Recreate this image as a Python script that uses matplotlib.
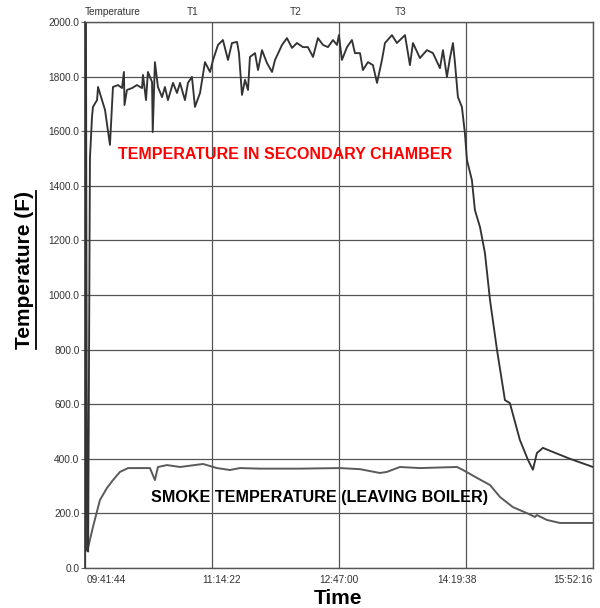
import matplotlib
matplotlib.use('Agg')
import matplotlib.pyplot as plt
from matplotlib.transforms import ScaledTranslation
from matplotlib.lines import Line2D

plt.rcParams['font.family'] = ['Liberation Sans', 'DejaVu Sans']

# elapsed minutes since 09:41:44
chamber_t = [0, 0.7, 1.5, 2.3, 3.6, 5.1, 5.8, 8.8, 9.5, 12.4, 14.6, 18.2, 20.4, 24.1, 27.0,
             28.4, 28.8, 30.6, 34.3, 37.9, 41.6, 42.3, 44.5, 45.9, 48.9, 49.4, 51.0, 53.2,
             56.2, 58.3, 60.5, 64.2, 67.1, 69.3, 72.9, 75.1, 78.0, 80.2, 83.9, 87.5, 91.2,
             93.4, 97.0, 100.6, 104.3, 107.2, 110.9, 112.3, 114.5, 116.7, 118.9, 120.3,
             124.0, 126.2, 129.1, 132.7, 136.4, 138.6, 143.7, 147.3, 151.0, 154.6, 159.0,
             162.6, 166.3, 169.9, 173.6, 177.2, 180.9, 183.8, 185.2, 187.4, 191.1, 194.7,
             196.9, 200.6, 202.7, 206.4, 210.0, 213.0, 216.6, 218.8, 223.9, 227.5, 233.4,
             237.0, 239.2, 244.3, 249.4, 253.8, 258.9, 261.1, 264.0, 266.2, 268.4, 269.8,
             272.0, 274.9, 277.1, 278.6, 282.2, 284.4, 288.1, 291.7, 295.4, 300.5, 306.3,
             309.9, 317.2, 323.1, 326.7, 329.6, 334.0, 341.3, 353.7, 370.5]
chamber_v = [65, 2000, 70, 60, 1500, 1652, 1689, 1714, 1762, 1714, 1678, 1550, 1762, 1769, 1758,
             1817, 1696, 1751, 1758, 1769, 1758, 1806, 1714, 1817, 1780, 1597, 1853, 1762,
             1725, 1762, 1714, 1777, 1740, 1777, 1714, 1777, 1799, 1689, 1740, 1853, 1817,
             1861, 1916, 1934, 1861, 1923, 1927, 1886, 1733, 1788, 1751, 1872,
             1886, 1824, 1897, 1850, 1817, 1861, 1916, 1941, 1905, 1923, 1908,
             1908, 1872, 1941, 1916, 1908, 1934, 1916, 1952, 1861, 1908, 1934,
             1886, 1886, 1824, 1853, 1842, 1777, 1861, 1923, 1952, 1923, 1952,
             1842, 1923, 1868, 1897, 1886, 1831, 1897, 1799, 1868, 1923, 1853,
             1725, 1689, 1593, 1494, 1421, 1311, 1249, 1154, 982, 799, 615,
             604, 469, 396, 360, 421, 440, 425, 400, 370]

smoke_t = [0, 2.2, 5.8, 10.9, 16.0, 20.4, 25.5, 31.4, 40.1, 47.4, 51.0, 53.2, 59.8, 69.3,
           86.1, 96.3, 105.7, 113.0, 127.6, 156.8, 186.0, 200.6, 215.1, 220.2, 229.7,
           244.3, 271.3, 275.7, 285.9, 295.4, 302.7, 312.1, 322.3, 328.2, 329.6, 336.9,
           346.4, 370.5]
smoke_v = [59, 73, 150, 249, 293, 322, 352, 366, 366, 366, 322, 370, 377, 370,
           381, 366, 359, 366, 364, 364, 366, 362, 348, 352, 370,
           366, 370, 359, 330, 304, 260, 223, 201, 187, 194, 176,
           165, 165]

time_ticks = [0, 92.63, 185.27, 277.9, 370.53]
time_labels = ['09:41:44', '11:14:22', '12:47:00', '14:19:38', '15:52:16']
temp_ticks = [0, 200, 400, 600, 800, 1000, 1200, 1400, 1600, 1800, 2000]
top_labels = ['Temperature', 'T1', 'T2', 'T3']

fig = plt.figure(figsize=(6, 6.08), dpi=100)
ax = fig.add_axes([85/600, 40/608, 508/600, 546/608])

ax.plot(smoke_t, smoke_v, color='#5a5a5a', lw=1.4)
ax.plot(chamber_t, chamber_v, color='#333333', lw=1.35)

ax.set_xlim(0, 370.53)
ax.set_ylim(0, 2000)
ax.set_yticks(temp_ticks)
ax.set_yticklabels(['%.1f' % v for v in temp_ticks], fontsize=7.3, color='#333333')
ax.set_xticks(time_ticks)
ax.set_xticklabels(time_labels, fontsize=7.3, color='#333333')
ax.tick_params(axis='y', length=3, color='#666666', pad=1)
ax.tick_params(axis='x', length=0, pad=5)
ax.grid(True, color='#555555', lw=0.9)

# tick labels spread evenly like the recorder printout
offsets = [2, 10, 0, -9, 0]
aligns = ['left', 'center', 'center', 'center', 'right']
for lab, dx, ha in zip(ax.get_xticklabels(), offsets, aligns):
    lab.set_ha(ha)
    lab.set_transform(lab.get_transform() + ScaledTranslation(dx/100, 0, fig.dpi_scale_trans))

for side in ['top', 'right', 'bottom']:
    ax.spines[side].set_color('#555555')
    ax.spines[side].set_linewidth(1.0)
ax.spines['left'].set_color('#333333')
ax.spines['left'].set_linewidth(1.2)

# labels above the plot
top_x = [85, 193, 296, 401]
for txt, px in zip(top_labels, top_x):
    fig.text(px/600, 1 - 12/608, txt, fontsize=7.2, color='#333333',
             ha='left' if txt == 'Temperature' else 'center', va='center')

ax.text(0.394, 0.758, 'TEMPERATURE IN SECONDARY CHAMBER', transform=ax.transAxes,
        color='#ff0000', fontsize=11.5, fontweight='bold', ha='center', va='center')
ax.text(0.462, 0.130, 'SMOKE TEMPERATURE (LEAVING BOILER)', transform=ax.transAxes,
        color='black', fontsize=11.6, fontweight='bold', ha='center', va='center')

ylab = fig.text(25/600, 1 - 270/608, 'Temperature (F)', rotation=90,
                fontsize=15, fontweight='bold', ha='center', va='center')
xlab = fig.text(338/600, 1 - 598/608, 'Time', fontsize=15, fontweight='bold',
                ha='center', va='center')

# underline the axis titles
fig.canvas.draw()
W, H = fig.bbox.width, fig.bbox.height
bb = ylab.get_window_extent()
ux = (bb.x1 + 1) / W
fig.add_artist(Line2D([ux, ux], [bb.y0 / H, bb.y1 / H], color='black', lw=1.3))
bb = xlab.get_window_extent()
uy = (bb.y0 - 1) / H
fig.add_artist(Line2D([bb.x0 / W, bb.x1 / W], [uy, uy], color='black', lw=1.3))

plt.savefig('out.png', dpi=100)
